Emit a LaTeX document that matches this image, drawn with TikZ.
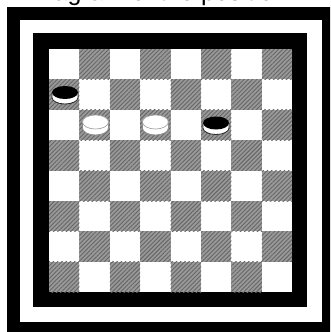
\documentclass[tikz,border=0pt]{standalone}
\usepackage{fontspec}
\newfontfamily\capfont{Liberation Sans}
\usetikzlibrary{patterns.meta}
\tikzset{
  darksq/.style={fill=black!40,
    postaction={pattern={Lines[angle=45,distance=3pt,line width=0.9pt]},
      pattern color=black!60}},
  blackman/.pic={
    \draw[fill=white,draw=black!85,line width=0.8pt] (-13,-1.5) -- (-13,3.5)
      arc[start angle=180,end angle=0,x radius=13,y radius=6.5] -- (13,-1.5);
    \fill[black] (0,-1.5) ellipse[x radius=13,y radius=6.5];
  },
  whiteman/.pic={
    \draw[fill=white,draw=black!45,line width=0.8pt] (-13,-3) -- (-13,3)
      arc[start angle=180,end angle=0,x radius=13,y radius=7] -- (13,-3);
    \draw[fill=white,draw=black!35,line width=0.7pt] (0,-3) ellipse[x radius=13,y radius=7];
  }
}

\begin{document}
\begin{tikzpicture}[x=1pt,y=-1pt]
  \useasboundingbox (0,0) rectangle (330,332);
  \clip (0,0) rectangle (330,332);
  % caption, mostly cut off at the top
  \node[anchor=base west,inner sep=0pt,font=\capfont\fontsize{25}{30}\selectfont]
    (caption) at (30,1) {Diagram of the position};
  % outer frame
  \fill[black] (7,7) rectangle (336,336);
  \fill[white] (20,20) rectangle (322,322);
  % inner frame and board
  \fill[black] (33,33) rectangle (307,307);
  \fill[white] (49,49) rectangle (292,292);
  \foreach \r in {1,...,8}
    \foreach \c in {1,...,8}{
      \pgfmathtruncatemacro\odd{mod(\r+\c,2)}
      \ifnum\odd=1
        \path[darksq] ({49+(\c-1)*30.4},{49+(\r-1)*30.4}) rectangle ++(30.4,30.4);
      \fi
    }
  % pieces
  \coordinate (a2) at (65,94);
  \coordinate (b3) at (95.5,125);
  \coordinate (d3) at (155.4,125);
  \coordinate (f3) at (216,124.5);
  \pic at (a2) {blackman};
  \pic at (f3) {blackman};
  \pic at (b3) {whiteman};
  \pic at (d3) {whiteman};
\end{tikzpicture}
\end{document}
